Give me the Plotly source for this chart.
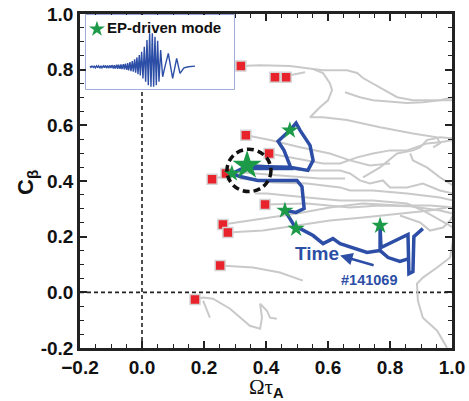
import plotly.graph_objects as go

# ---------------- data ----------------
# grey trajectories of other discharges (Omega*tau_A, C_beta)
grey_x = [
    [0.319, 0.381, 0.477, 0.552, 0.584, 0.661, 0.694, 0.713, 0.768, 0.823, 0.874, 0.929, 1.003],
    [0.552, 0.584, 0.606, 0.613, 0.600, 0.574, 0.542, 0.584, 0.661, 0.768, 0.874, 0.952, 0.961, 0.939],
    [0.655, 0.703, 0.745, 0.855, 0.906, 0.961, 1.003],
    [0.713, 0.768, 0.823, 0.874, 0.897, 0.919, 0.961, 1.003],
    [0.410, 0.477, 0.532, 0.584, 0.639, 0.694, 0.745, 0.800, 0.855, 0.874, 0.919, 0.961, 1.003],
    [0.865, 0.874, 0.919, 0.961, 1.003],
    [0.348, 0.423, 0.532, 0.639, 0.671, 0.703, 0.735, 0.777, 0.800, 0.855, 0.906, 0.961, 1.003],
    [0.316, 0.423, 0.532, 0.639, 0.671, 0.745, 0.855, 0.961, 1.003],
    [0.365, 0.403, 0.532, 0.639, 0.745, 0.855, 0.906, 0.961, 1.003],
    [0.397, 0.532, 0.671, 0.768, 0.865, 0.961, 1.003],
    [0.261, 0.348, 0.500, 0.606, 0.713, 0.832, 0.929, 1.003],
    [0.277, 0.390, 0.500, 0.606, 0.713, 0.823, 0.929, 0.984],
    [0.252, 0.358, 0.445, 0.519],
    [0.171, 0.197, 0.229, 0.284, 0.348, 0.381, 0.387, 0.381, 0.403, 0.413, 0.435],
    [0.197, 0.219],
    [1.003, 0.994, 0.952, 0.906, 0.887, 0.890, 0.906, 0.952, 0.984],
    [0.335, 0.413, 0.510, 0.606, 0.671, 0.735, 0.800],
    [0.226, 0.316, 0.445, 0.574, 0.655],
    [0.429, 0.477, 0.526],
    [0.832, 0.897, 0.929, 0.971, 0.994, 1.003],
]
grey_y = [
    [0.813, 0.816, 0.813, 0.802, 0.798, 0.798, 0.788, 0.770, 0.737, 0.701, 0.690, 0.690, 0.690],
    [0.802, 0.788, 0.751, 0.727, 0.690, 0.665, 0.629, 0.629, 0.619, 0.593, 0.571, 0.557, 0.535, 0.521],
    [0.719, 0.701, 0.690, 0.680, 0.683, 0.690, 0.701],
    [0.413, 0.449, 0.499, 0.510, 0.521, 0.547, 0.557, 0.553],
    [0.499, 0.485, 0.474, 0.463, 0.463, 0.485, 0.499, 0.510, 0.510, 0.517, 0.535, 0.539, 0.547],
    [0.499, 0.474, 0.449, 0.413, 0.384],
    [0.463, 0.449, 0.438, 0.438, 0.427, 0.402, 0.391, 0.402, 0.377, 0.377, 0.391, 0.366, 0.355],
    [0.409, 0.395, 0.391, 0.377, 0.366, 0.366, 0.355, 0.341, 0.330],
    [0.355, 0.355, 0.341, 0.330, 0.330, 0.319, 0.294, 0.258, 0.233],
    [0.316, 0.319, 0.305, 0.312, 0.309, 0.294, 0.283],
    [0.244, 0.258, 0.283, 0.305, 0.319, 0.312, 0.312, 0.305],
    [0.215, 0.222, 0.240, 0.258, 0.269, 0.283, 0.294, 0.305],
    [0.096, 0.089, 0.071, 0.042],
    [-0.026, -0.019, -0.023, -0.059, -0.120, -0.131, -0.091, -0.041, -0.066, -0.091, -0.095],
    [-0.030, -0.091],
    [0.186, 0.125, 0.089, 0.053, 0.031, -0.030, -0.091, -0.138, -0.199],
    [0.564, 0.547, 0.521, 0.499, 0.474, 0.456, 0.463],
    [0.406, 0.431, 0.420, 0.409, 0.409],
    [0.773, 0.780, 0.791],
    [0.276, 0.251, 0.222, 0.233, 0.258, 0.276],
]

# discharge #141069 trajectory
shot_x = [0.906, 0.877, 0.874, 0.861, 0.858, 0.771, 0.768, 0.768, 0.726, 0.639, 0.616, 0.584,
          0.552, 0.510, 0.497, 0.461, 0.497, 0.523, 0.516, 0.500, 0.374, 0.316, 0.290, 0.339,
          0.477, 0.535, 0.552, 0.542, 0.510, 0.497, 0.477, 0.439, 0.458, 0.471, 0.481, 0.348,
          None, 0.768, 0.794, 0.832, 0.861]
shot_y = [0.229, 0.200, 0.074, 0.067, 0.208, 0.161, 0.237, 0.150, 0.143, 0.175, 0.193, 0.175,
          0.204, 0.229, 0.229, 0.294, 0.287, 0.301, 0.380, 0.402, 0.402, 0.416, 0.427, 0.453,
          0.449, 0.438, 0.474, 0.528, 0.582, 0.608, 0.582, 0.543, 0.510, 0.474, 0.445, 0.445,
          None, 0.150, 0.125, 0.111, 0.121]

# start points (red squares)
sq_x = [0.319, 0.429, 0.465, 0.335, 0.410, 0.226, 0.271, 0.397, 0.261, 0.277, 0.252, 0.171]
sq_y = [0.813, 0.773, 0.773, 0.564, 0.499, 0.406, 0.427, 0.316, 0.244, 0.215, 0.096, -0.026]

# EP-driven mode occurrences (stars)
star_x = [0.477, 0.461, 0.497, 0.768, 0.290]
star_y = [0.582, 0.294, 0.229, 0.240, 0.427]
big_star_x = [0.339]
big_star_y = [0.456]

# inset waveform (arbitrary time / amplitude units)
wave_t = [30, 33, 36, 40, 43, 46, 50, 53, 56, 60, 63, 66, 70, 73, 76, 80, 83, 86, 90, 93,
          96, 100, 103, 106, 110, 113, 116, 120, 123, 126, 130, 133, 136, 140, 143, 146, 150,
          153, 157, 160, 164, 167, 171, 174, 178, 181, 185, 189, 193, 197, 201, 205, 209, 213,
          217, 221, 225, 229, 233, 237, 242, 248, 256, 265, 278, 290, 300, 312, 325, 335, 345]
wave_a = [0.02, -0.02, 0.02, -0.02, 0.03, -0.03, 0.03, -0.03, 0.03, -0.03, 0.03, -0.03, 0.03,
          -0.03, 0.04, -0.04, 0.04, -0.04, 0.04, -0.04, 0.05, -0.05, 0.05, -0.05, 0.06, -0.06,
          0.06, -0.06, 0.07, -0.07, 0.08, -0.08, 0.09, -0.09, 0.11, -0.11, 0.14, -0.13, 0.17,
          -0.15, 0.22, -0.18, 0.28, -0.22, 0.35, -0.26, 0.45, -0.35, 0.60, -0.45, 0.80, -0.55,
          1.00, -0.60, 1.00, -0.60, 0.90, -0.55, 0.78, -0.45, 0.50, -0.30, 0.05, 0.40, -0.35,
          0.25, -0.20, -0.03, 0.00, 0.02, 0.02]

x_ticks = [-0.2, 0.0, 0.2, 0.4, 0.6, 0.8, 1.0]
x_ticklabels = ["\u22120.2", "0.0", "0.2", "0.4", "0.6", "0.8", "1.0"]
y_ticks = [-0.2, 0.0, 0.2, 0.4, 0.6, 0.8, 1.0]
y_ticklabels = ["-0.2", "0.0", "0.2", "0.4", "0.6", "0.8", "1.0"]

# ---------------- styling ----------------
FONT = "Liberation Sans, Arial, sans-serif"
BLUE = "#2d4ea6"
GREY = "#c9c9c9"
RED = "#e8232b"
GREEN = "#1c9a48"

fig = go.Figure()

for gx, gy in zip(grey_x, grey_y):
    fig.add_trace(go.Scatter(x=gx, y=gy, mode="lines", line=dict(color=GREY, width=2),
                             hoverinfo="skip", showlegend=False))

fig.add_trace(go.Scatter(x=shot_x, y=shot_y, mode="lines", line=dict(color=BLUE, width=3.5),
                         connectgaps=False, showlegend=False))

fig.add_trace(go.Scatter(x=sq_x, y=sq_y, mode="markers",
                         marker=dict(symbol="square", size=10, color=RED,
                                     line=dict(color="#d4d4d4", width=1.5)),
                         showlegend=False))

fig.add_trace(go.Scatter(x=star_x, y=star_y, mode="markers",
                         marker=dict(symbol="star", size=13, color=GREEN, line=dict(width=0)),
                         showlegend=False))
fig.add_trace(go.Scatter(x=big_star_x, y=big_star_y, mode="markers",
                         marker=dict(symbol="star", size=22, color=GREEN, line=dict(width=0)),
                         showlegend=False))

# inset waveform
fig.add_trace(go.Scatter(x=wave_t, y=wave_a, mode="lines", xaxis="x2", yaxis="y2",
                         line=dict(color=BLUE, width=1.4), showlegend=False))
fig.add_trace(go.Scatter(x=[51], y=[1.13], mode="markers", xaxis="x2", yaxis="y2",
                         marker=dict(symbol="star", size=12, color=GREEN, line=dict(width=0)),
                         showlegend=False))

axis_common = dict(
    showgrid=False, zeroline=False, showline=True, linecolor="#222", linewidth=2.5,
    mirror="ticks", ticks="inside", ticklen=7, tickwidth=1.5, tickcolor="#222",
    minor=dict(ticks="inside", ticklen=4, tickwidth=1.2, dtick=0.05, tickcolor="#222"),
    tickfont=dict(family=FONT, size=19, color="#111", weight="bold"),
    automargin=False,
)

fig.update_layout(
    width=469, height=401,
    margin=dict(l=80, r=17, t=14, b=53),
    plot_bgcolor="white", paper_bgcolor="white",
    xaxis=dict(range=[-0.2, 1.0], tickmode="array", tickvals=x_ticks, ticktext=x_ticklabels,
               **axis_common),
    yaxis=dict(range=[-0.2, 1.0], tickmode="array", tickvals=y_ticks, ticktext=y_ticklabels,
               **axis_common),
    xaxis2=dict(domain=[0.016, 0.414], range=[18, 462], visible=False, anchor="y2"),
    yaxis2=dict(domain=[0.775, 0.997], range=[-0.67, 1.55], visible=False, anchor="x2"),
    showlegend=False,
)

# shapes: inset box, dashed reference lines, dashed circle
fig.add_shape(type="rect", xref="paper", yref="paper", x0=0.016, x1=0.414, y0=0.775, y1=0.997,
              line=dict(color="#7083c6", width=1.3), fillcolor="white", layer="below")
fig.add_shape(type="line", xref="x", yref="y", x0=0, x1=0, y0=-0.2, y1=0.730,
              line=dict(color="#222", width=1.6, dash="4px,3px"), layer="below")
fig.add_shape(type="line", xref="x", yref="y", x0=-0.2, x1=1.0, y0=0, y1=0,
              line=dict(color="#222", width=1.6, dash="4px,3px"), layer="below")
fig.add_shape(type="circle", xref="x", yref="y", x0=0.274, x1=0.416, y0=0.362, y1=0.514,
              line=dict(color="#111", width=3.5, dash="7px,4px"))

# annotations
fig.add_annotation(x=76, y=1.19, xref="x2", yref="y2", text="<b>EP-driven mode</b>",
                   showarrow=False, xanchor="left", yanchor="middle",
                   font=dict(family=FONT, size=15, color="#111"))
fig.add_annotation(x=0.565, y=0.139, xref="x", yref="y", text="<b>Time</b>", showarrow=False,
                   font=dict(family=FONT, size=19, color=BLUE))
fig.add_annotation(x=0.732, y=0.046, xref="x", yref="y", text="<b>#141069</b>", showarrow=False,
                   font=dict(family=FONT, size=14.5, color=BLUE))
fig.add_annotation(x=0.639, y=0.132, ax=0.752, ay=0.096, xref="x", yref="y", axref="x",
                   ayref="y", text="", showarrow=True, arrowhead=2, arrowsize=1,
                   arrowwidth=2.5, arrowcolor=BLUE)
# axis titles
fig.add_annotation(x=0.5, y=0, xref="paper", yref="paper", yanchor="middle", yshift=-40,
                   text="<span style='font-family:Liberation Serif'>\u03a9\u03c4</span><sub><b>A</b></sub>",
                   showarrow=False, font=dict(family=FONT, size=21, color="#111"))
fig.add_annotation(x=0, y=0.5, xref="paper", yref="paper", xanchor="center", xshift=-53,
                   yshift=-2, text="<b>C<sub>\u03b2</sub></b>", textangle=-90, showarrow=False,
                   font=dict(family=FONT, size=22, color="#111"))

fig.write_html("out.html", config={"displayModeBar": False},
               post_script="document.body.style.margin='0';")
